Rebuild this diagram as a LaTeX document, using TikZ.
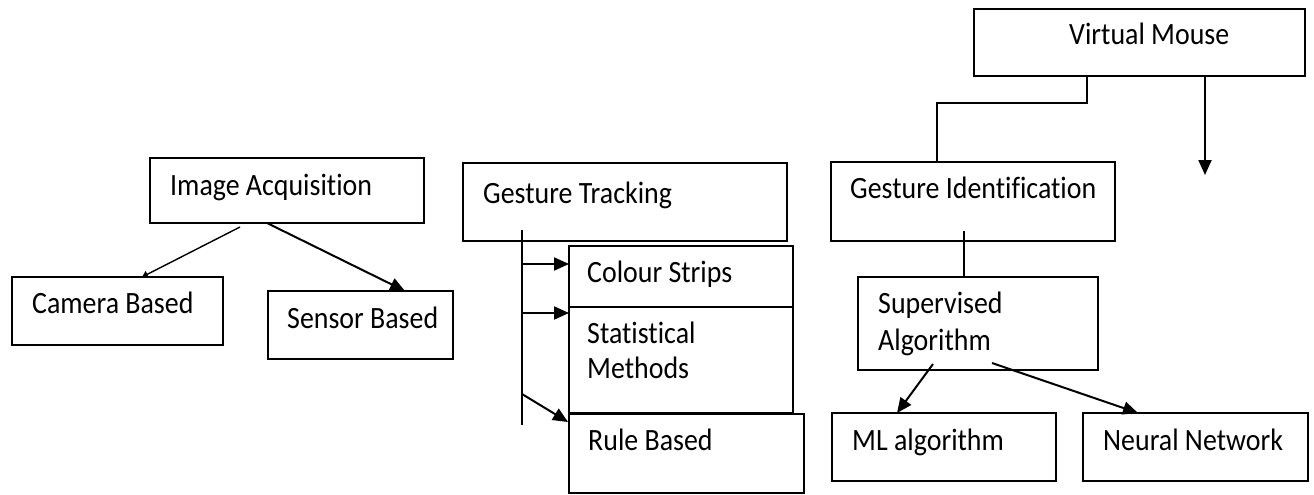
\documentclass[tikz,border=0pt]{standalone}
\usepackage{fontspec}
\setmainfont{Carlito}[FakeStretch=0.9, Ligatures=NoCommon]
\usetikzlibrary{arrows.meta,fit,calc}
\tikzset{
  box/.style={draw=black, line width=2pt, inner sep=0pt, outer sep=0pt, rectangle},
  lbl/.style={anchor=base west, inner sep=0pt, font=\fontsize{31}{35}\selectfont},
  conn/.style={draw=black, line width=2pt},
  arr/.style={conn, -{Triangle[length=15pt,width=13pt]}},
  thinarr/.style={draw=black, line width=1.4pt, -{Triangle[length=6pt,width=7pt]}}
}
\begin{document}
\begin{tikzpicture}[x=1pt,y=-1pt]
\useasboundingbox (0,0) rectangle (1314,495);
% boxes
\node[box, fit={(150,158) (424,223)}] (ia) {};
\node[box, fit={(12,277) (223,345)}] (cam) {};
\node[box, fit={(268,291) (453,359)}] (sen) {};
\node[box, fit={(463,163) (787,241)}] (gt) {};
\node[box, fit={(569,246) (793,307)}] (cs) {};
\node[box, fit={(569,307) (793,413)}] (sm) {};
\node[box, fit={(569,414) (804,493)}] (rb) {};
\node[box, fit={(974,9) (1305,76)}] (vm) {};
\node[box, fit={(831,162) (1115,241)}] (gi) {};
\node[box, fit={(858,277) (1098,370)}] (sa) {};
\node[box, fit={(832,413) (1056,481)}] (ml) {};
\node[box, fit={(1083,413) (1308,481)}] (nn) {};
% labels
\node[lbl] (tia) at ($(ia.north west)+(20,37)$) {Image Acquisition};
\node[lbl] (tcam) at ($(cam.north west)+(20,36)$) {Camera Based};
\node[lbl] (tsen) at ($(sen.north west)+(19,37)$) {Sensor Based};
\node[lbl] (tgt) at ($(gt.north west)+(20,40)$) {Gesture Tracking};
\node[lbl] (tcs) at ($(cs.north west)+(18,36)$) {Colour Strips};
\node[lbl] (tsm) at ($(sm.north west)+(18,36)$) {Statistical};
\node[lbl] (tsm2) at ($(sm.north west)+(18,71)$) {Methods};
\node[lbl] (trb) at ($(rb.north west)+(19,36)$) {Rule Based};
\node[lbl] (tvm) at ($(vm.north west)+(95,36)$) {Virtual Mouse};
\node[lbl] (tgi) at ($(gi.north west)+(19,36)$) {Gesture Identification};
\node[lbl] (tsa) at ($(sa.north west)+(20,36)$) {Supervised};
\node[lbl] (tsa2) at ($(sa.north west)+(20,73)$) {Algorithm};
\node[lbl] (tml) at ($(ml.north west)+(20,37)$) {ML algorithm};
\node[lbl] (tnn) at ($(nn.north west)+(20,37)$) {Neural Network};
% connectors: image acquisition
\draw[thinarr] ($(ia.south west)+(90,4)$) -- ($(cam.north west)+(130,0)$);
\draw[arr] ($(ia.south west)+(117,0)$) -- ($(sen.north west)+(137,0)$);
% gesture tracking
\coordinate (gtt) at ($(gt.south west)+(59,-11)$);
\coordinate (gtb) at ($(gt.south west)+(59,184)$);
\draw[conn] (gtt) -- (gtb);
\draw[arr] ($(gt.south west)+(59,23)$) -- ($(cs.north west)+(0,18)$);
\draw[arr] ($(gt.south west)+(59,72)$) -- ($(sm.north west)+(0,6)$);
\draw[arr] ($(gt.south west)+(59,153)$) -- ($(rb.north west)+(-1,8)$);
% virtual mouse
\draw[conn] ($(vm.south west)+(113,0)$) |- ($(gi.north west)+(106,-59)$) -- ($(gi.north west)+(106,0)$);
\coordinate (vmend) at ($(vm.south west)+(231,99)$);
\draw[arr] ($(vm.south west)+(231,0)$) -- (vmend);
% gesture identification
\draw[conn] ($(gi.south west)+(133,-10)$) -- ($(sa.north west)+(106,0)$);
\draw[arr] ($(sa.south west)+(75,-6)$) -- ($(ml.north west)+(65,0)$);
\draw[arr] ($(sa.south west)+(134,-7)$) -- ($(nn.north west)+(55,0)$);
\end{tikzpicture}
\end{document}
